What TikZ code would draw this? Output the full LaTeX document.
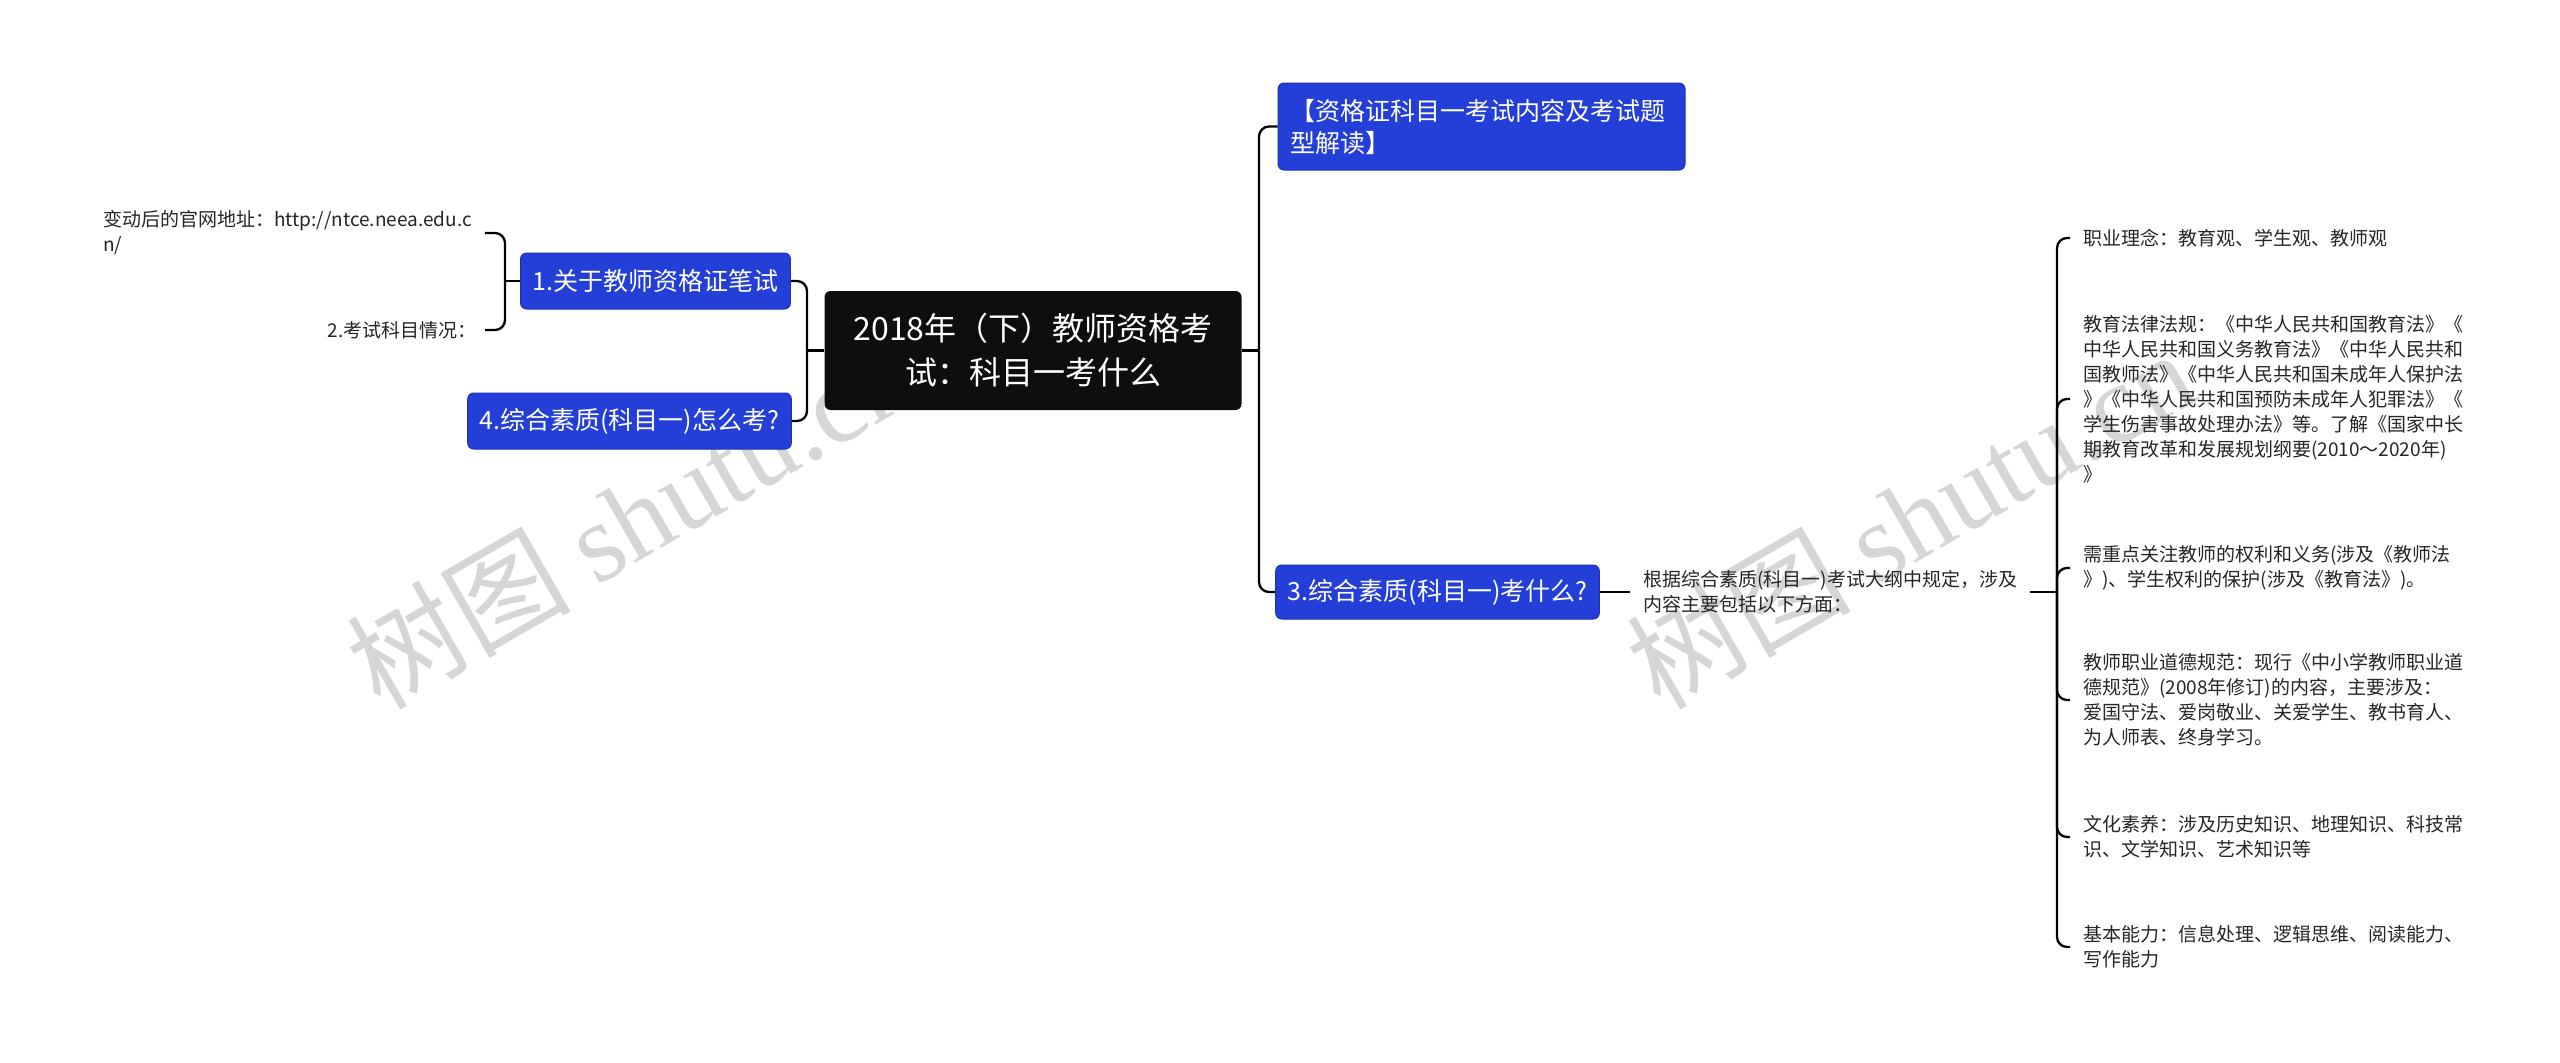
\documentclass[tikz,border=0pt]{standalone}
\usepackage{fontspec}
\setmainfont{Noto Sans CJK SC}
\newfontfamily\wmserif{Liberation Serif}
\newfontfamily\wmcjk{Noto Sans CJK SC}
\definecolor{myblue}{RGB}{36,62,216}
\definecolor{myblueborder}{RGB}{28,48,185}
\definecolor{rootblack}{RGB}{14,14,14}
\definecolor{wmgray}{RGB}{214,214,214}
\tikzset{
  conn/.style={line width=2.3pt, black},
  bracket/.style={conn, rounded corners=10pt},
  bluebox/.style={fill=myblue, draw=myblueborder, line width=1pt, rounded corners=6pt,
    text=white, font=\fontsize{25}{32}\selectfont, inner xsep=12pt, inner ysep=0pt,
    minimum height=56pt},
  rootbox/.style={fill=rootblack, rounded corners=6pt, text=white,
    font=\fontsize{32}{44}\selectfont, align=center, minimum width=417pt,
    minimum height=119pt, inner sep=0pt},
  plain/.style={font=\fontsize{19}{25}\selectfont, inner xsep=13pt, inner ysep=2pt,
    align=left, text=black!85},
  wmark/.style={rotate=30, text=wmgray, font=\fontsize{112}{120}\selectfont, inner sep=0pt}
}
\begin{document}
\begin{tikzpicture}[x=1pt,y=-1pt]
\useasboundingbox (0,0) rectangle (2560,1063);
\fill[white] (0,0) rectangle (2560,1063);
% watermarks
\node[wmark] (wm1) at (630,518) {\wmcjk 树图 {\wmserif shutu.cn}};
\node[wmark] (wm2) at (1910,518) {\wmcjk 树图 {\wmserif shutu.cn}};
% nodes
\node[rootbox] (root) at (1033,350.5) {2018年（下）教师资格考\\试：科目一考什么};
\node[bluebox, minimum width=267pt] (n1) at (655.5,281) {1.关于教师资格证笔试};
\node[bluebox, minimum width=319pt] (n4) at (629.5,421) {4.综合素质(科目一)怎么考?};
\node[bluebox, minimum height=87pt, text width=383pt, align=left] (n2) at (1481.5,126.5) {【资格证科目一考试内容及考试题\\型解读】};
\node[bluebox, minimum width=319pt, minimum height=54pt] (n3) at (1437.5,592) {3.综合素质(科目一)考什么?};
\node[plain, anchor=east] (url) at (485,233) {变动后的官网地址：http://ntce.neea.edu.c\\n/};
\node[plain, anchor=east, inner xsep=8pt] (kemu) at (485,330) {2.考试科目情况：};
\node[plain, anchor=west] (desc) at (1630,592) {根据综合素质(科目一)考试大纲中规定，涉及\\内容主要包括以下方面：};
\node[plain, anchor=west] (l1) at (2070,238) {职业理念：教育观、学生观、教师观};
\node[plain, anchor=west] (l2) at (2070,399) {教育法律法规：《中华人民共和国教育法》《\\中华人民共和国义务教育法》《中华人民共和\\国教师法》《中华人民共和国未成年人保护法\\》《中华人民共和国预防未成年人犯罪法》《\\学生伤害事故处理办法》等。了解《国家中长\\期教育改革和发展规划纲要(2010～2020年)\\》};
\node[plain, anchor=west] (l3) at (2070,568) {需重点关注教师的权利和义务(涉及《教师法\\》)、学生权利的保护(涉及《教育法》)。};
\node[plain, anchor=west] (l4) at (2070,700) {教师职业道德规范：现行《中小学教师职业道\\德规范》(2008年修订)的内容，主要涉及：\\爱国守法、爱岗敬业、关爱学生、教书育人、\\为人师表、终身学习。};
\node[plain, anchor=west] (l5) at (2070,837) {文化素养：涉及历史知识、地理知识、科技常\\识、文学知识、艺术知识等};
\node[plain, anchor=west] (l6) at (2070,947) {基本能力：信息处理、逻辑思维、阅读能力、\\写作能力};
% junctions
\coordinate (jl) at (807,350.5);
\coordinate (jb) at (505,281);
\coordinate (jr) at (1259,350.5);
\coordinate (jd) at (2057,592);
% connectors
\draw[conn] (root.west) -- (jl);
\draw[bracket] (jl) |- (n1.east);
\draw[bracket] (jl) |- (n4.east);
\draw[conn] (n1.west) -- (jb);
\draw[bracket] (jb) |- (url.east);
\draw[bracket] (jb) |- (kemu.east);
\draw[conn] (root.east) -- (jr);
\draw[bracket] (jr) |- (n2.west);
\draw[bracket] (jr) |- (n3.west);
\draw[conn] (n3.east) -- (desc.west);
\draw[conn] (desc.east) -- (jd);
\foreach \l in {l1,l2,l3,l4,l5,l6} {\draw[bracket] (jd) |- (\l.west);}
\end{tikzpicture}
\end{document}
